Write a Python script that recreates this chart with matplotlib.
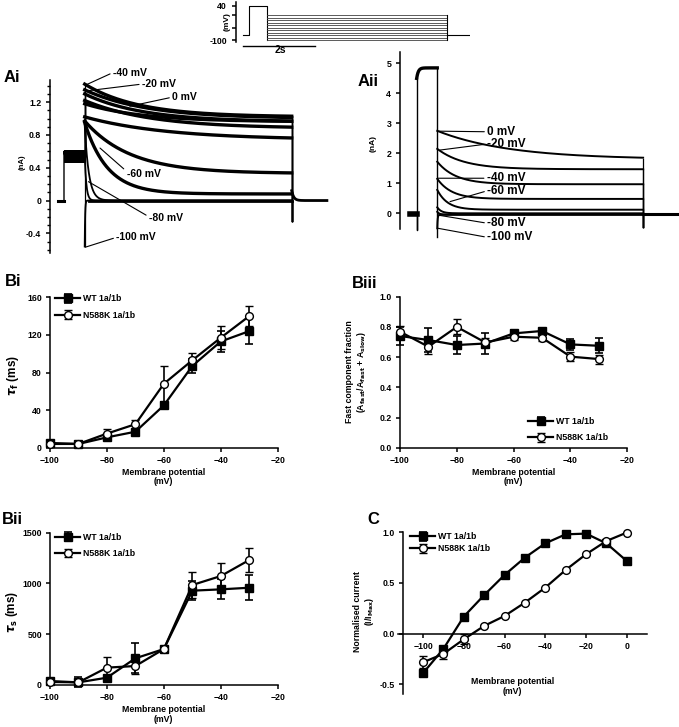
import matplotlib
matplotlib.use("Agg")
import matplotlib.pyplot as plt
import numpy as np

plt.rcParams["font.family"] = ["Liberation Sans", "DejaVu Sans"]
plt.rcParams["font.weight"] = "bold"
plt.rcParams["axes.labelweight"] = "bold"
plt.rcParams["mathtext.fontset"] = "dejavusans"
plt.rcParams["axes.linewidth"] = 1.1
plt.rcParams["xtick.major.width"] = 1.1
plt.rcParams["ytick.major.width"] = 1.1
plt.rcParams["ytick.minor.width"] = 1.0
plt.rcParams["xtick.major.size"] = 2.8
plt.rcParams["ytick.major.size"] = 2.8
plt.rcParams["ytick.minor.size"] = 2.0
plt.rcParams["xtick.labelsize"] = 6.3
plt.rcParams["ytick.labelsize"] = 6.3

# ---- voltage protocol (s, mV) ----
t_start = -0.17
t_pre_end = 0.5
t_test_end = 5.5
t_stop = 6.14
v_hold = -80
v_pre = 40
test_mv = [-100, -90, -80, -70, -60, -50, -40, -30, -20, -10, 0]

# ---- Ai: WT 1a/1b current traces (nA) ----
ai_mv = [-100, -90, -80, -70, -60, -50, -40, -30, -20, -10, 0]
ai_peak = [-0.56, 0.55, 0.92, 0.95, 0.97, 1.02, 1.42, 1.30, 1.35, 1.22, 1.18]
ai_end = [0.0, 0.0, 0.0, 0.08, 0.33, 0.74, 1.02, 0.96, 1.00, 0.88, 0.96]
ai_tau = [0.01, 0.04, 0.10, 0.55, 1.1, 2.0, 1.3, 1.4, 1.5, 1.6, 1.4]
ai_pre_lo, ai_pre_hi = 0.46, 0.62
ai_pre_level = 0.54
ai_off_spike = -0.25
ai_tail = 0.12
ai_t_last = 6.35

# ---- Aii: N588K 1a/1b current traces (nA) ----
aii_mv = [-100, -90, -80, -70, -60, -40, -20, 0]
aii_peak = [-0.50, 0.05, 0.20, 0.78, 1.15, 1.72, 2.15, 2.75]
aii_end = [-0.05, -0.04, 0.00, 0.12, 0.48, 0.97, 1.47, 1.80]
aii_tau = [0.01, 0.05, 0.10, 0.25, 0.35, 0.45, 0.65, 1.75]
aii_base = -0.03
aii_pre_level = 4.85
aii_pre_rise = 4.5
aii_on_spike = -0.55
aii_pre_off_spike = -0.8
aii_off_spike = -0.47
aii_t_last = 6.34

# ---- B / C summary data ----
mv_b = [-100, -90, -80, -70, -60, -50, -40, -30]
bi_wt = [5, 4, 11, 17, 45, 87, 113, 124]
bi_wt_err = [1, 1, 3, 2, 4, 7, 11, 14]
bi_mut = [4, 4, 15, 25, 68, 93, 117, 140]
bi_mut_err = [1, 1, 5, 5, 19, 8, 12, 11]

bii_wt = [39, 26, 72, 263, 354, 929, 942, 958]
bii_wt_err = [10, 50, 20, 147, 20, 92, 98, 123]
bii_mut = [30, 26, 171, 187, 354, 985, 1073, 1231]
bii_mut_err = [10, 20, 101, 79, 15, 131, 125, 115]

biii_wt = [0.74, 0.713, 0.68, 0.69, 0.757, 0.773, 0.684, 0.675]
biii_wt_err = [0.06, 0.08, 0.06, 0.07, 0.02, 0.015, 0.035, 0.05]
biii_mut = [0.768, 0.669, 0.80, 0.697, 0.735, 0.728, 0.603, 0.587]
biii_mut_err = [0.04, 0.05, 0.05, 0.03, 0.02, 0.02, 0.03, 0.03]

mv_c = [-100, -90, -80, -70, -60, -50, -40, -30, -20, -10, 0]
c_wt = [-0.39, -0.15, 0.168, 0.38, 0.579, 0.75, 0.891, 0.98, 0.987, 0.891, 0.717]
c_wt_err = [0.03, 0.03, 0.02, 0.01, 0, 0, 0, 0, 0, 0, 0]
c_mut = [-0.283, -0.2, -0.056, 0.076, 0.174, 0.306, 0.454, 0.628, 0.783, 0.914, 0.997]
c_mut_err = [0.06, 0.05, 0.05, 0.01, 0, 0, 0, 0, 0, 0, 0]

W, H = 679, 727
fig = plt.figure(figsize=(W / 100, H / 100), dpi=100)


def add_box(x0, y0, x1, y1):
    # pixel box (left, top, right, bottom) -> axes
    return fig.add_axes([x0 / W, 1 - y1 / H, (x1 - x0) / W, (y1 - y0) / H])


def only_left(ax):
    for s in ["top", "right", "bottom"]:
        ax.spines[s].set_visible(False)
    ax.set_xticks([])
    ax.patch.set_alpha(0)


# ---------------- voltage protocol inset ----------------
ax_p = add_box(235.7, 1.7, 470, 41.7)
only_left(ax_p)
ax_p.set_xlim(-0.37, t_stop)
ax_p.set_ylim(-106.9, 56.3)
ax_p.plot([t_start, 0, 0, t_pre_end, t_pre_end], [v_hold, v_hold, v_pre, v_pre, min(test_mv)],
          color="k", lw=0.8)
for v in test_mv:
    ax_p.plot([t_pre_end, t_test_end], [v, v], color="0.25", lw=0.6)
ax_p.plot([t_test_end, t_test_end], [min(test_mv), max(test_mv)], color="k", lw=0.8)
ax_p.plot([t_test_end, t_stop], [v_hold, v_hold], color="k", lw=0.8)
ax_p.set_yticks([40, 0, -50, -100])
ax_p.set_yticklabels(["40", "", "", "-100"])
ax_p.text(-0.035, 0.5, "(mV)", transform=ax_p.transAxes, rotation=90, ha="center",
          va="center", fontsize=6.0)
ax_p.plot([-0.17, 1.83], [-123, -123], color="k", lw=1.0, clip_on=False)
ax_p.text(0.86, -142, "2s", ha="center", va="center", fontsize=7.5, clip_on=False)

# ---------------- Ai ----------------
ax = add_box(50, 80, 330, 253)
only_left(ax)
ax.set_xlim(-0.338, 6.425)
ax.set_ylim(-0.64, 1.47)
ax.plot([-0.15, 0], [0, 0], color="k", lw=2.2)
ax.plot([0, 0, 0.02], [0, 0.6, ai_pre_level], color="k", lw=1.0)
ax.fill_between([0.01, t_pre_end], ai_pre_lo, ai_pre_hi, color="k", lw=0)
t_test = np.linspace(t_pre_end, t_test_end, 800)
for mv, pk, en, tau in zip(ai_mv, ai_peak, ai_end, ai_tau):
    cur = en + (pk - en) * np.exp(-(t_test - t_pre_end) / tau)
    ax.plot([t_pre_end, t_pre_end], [ai_pre_level, pk], color="k", lw=0.9)
    ax.plot(t_test, cur, color="k", lw=2.4 if tau > 0.3 else 1.3)
    ax.plot([t_test_end, t_test_end], [en, ai_off_spike], color="k", lw=0.9)
ax.plot([t_pre_end + 0.1, t_test_end], [0, 0], color="k", lw=2.0)
t_tail = np.linspace(t_test_end, ai_t_last, 200)
ax.plot(t_tail, ai_tail * np.exp(-(t_tail - t_test_end) / 0.05), color="k", lw=2.0)
ax.set_yticks([-0.4, 0, 0.4, 0.8, 1.2])
ax.set_yticklabels(["-0.4", "0", "0.4", "0.8", "1.2"])
ax.set_yticks(np.arange(-0.6, 1.45, 0.1), minor=True)
ax.text(-0.1, 0.526, "(nA)", transform=ax.transAxes, rotation=90, ha="center",
        va="center", fontsize=5.6)
ai_notes = [("-40 mV", (0.53, 1.41), (1.18, 1.56), (0, 0.5)),
            ("-20 mV", (0.59, 1.34), (1.88, 1.42), (0, 0.5)),
            ("0 mV", (1.59, 1.15), (2.61, 1.26), (0, 0.5)),
            ("-60 mV", (0.87, 0.64), (1.51, 0.32), (0, 0.8)),
            ("-80 mV", (0.59, 0.23), (2.05, -0.21), (0, 0.6)),
            ("-100 mV", (0.51, -0.57), (1.26, -0.45), (0, 0.5))]
for txt, xy, xyt, rp in ai_notes:
    ax.annotate(txt, xy=xy, xytext=xyt, ha="left", va="center", fontsize=7.5,
                annotation_clip=False,
                arrowprops=dict(arrowstyle="-", lw=0.8, color="k", shrinkA=0, shrinkB=0,
                                relpos=rp))

# ---------------- Aii ----------------
ax = add_box(400, 52.3, 679, 238.8)
only_left(ax)
ax.set_xlim(-0.405, 6.371)
ax.set_ylim(-0.85, 5.37)
ax.spines["left"].set_bounds(-0.52, 5.37)
ax.plot([-0.17, 0], [aii_base, aii_base], color="k", lw=4)
t_pre = np.linspace(0, t_pre_end, 200)
pre = aii_pre_level - (aii_pre_level - aii_pre_rise) * np.exp(-t_pre / 0.04)
ax.plot([0, 0, 0], [aii_base, aii_on_spike, aii_pre_rise], color="k", lw=1.0)
ax.plot(t_pre, pre, color="k", lw=2.4)
ax.plot([t_pre_end, t_pre_end], [aii_pre_level, aii_pre_off_spike], color="k", lw=1.0)
for mv, pk, en, tau in zip(aii_mv, aii_peak, aii_end, aii_tau):
    cur = en + (pk - en) * np.exp(-(t_test - t_pre_end) / tau)
    ax.plot(t_test, cur, color="k", lw=1.4)
    ax.plot([t_test_end, t_test_end], [en, aii_off_spike], color="k", lw=0.9)
ax.plot([t_test_end, aii_t_last], [aii_base, aii_base], color="k", lw=2.2)
ax.set_yticks([0, 1, 2, 3, 4, 5])
ax.text(-0.096, 0.512, "(nA)", transform=ax.transAxes, rotation=90, ha="center",
        va="center", fontsize=6.0)
aii_notes = [("0 mV", (0.52, 2.74), (1.71, 2.72), (0, 0.5)),
             ("-20 mV", (0.57, 2.11), (1.70, 2.31), (0, 0.5)),
             ("-40 mV", (0.52, 1.17), (1.70, 1.17), (0, 0.5)),
             ("-60 mV", (0.81, 0.39), (1.71, 0.75), (0, 0.5)),
             ("-80 mV", (0.52, -0.06), (1.71, -0.33), (0, 0.5)),
             ("-100 mV", (0.52, -0.50), (1.71, -0.80), (0, 0.5))]
for txt, xy, xyt, rp in aii_notes:
    ax.annotate(txt, xy=xy, xytext=xyt, ha="left", va="center", fontsize=8.5,
                annotation_clip=False,
                arrowprops=dict(arrowstyle="-", lw=0.8, color="k", shrinkA=0, shrinkB=0,
                                relpos=rp))


# ---------------- summary panels ----------------
def summary(ax, x, wt, wt_err, mut, mut_err):
    for artist in ax.errorbar(x, wt, yerr=wt_err, color="k", lw=1.6, marker="s", ms=5.2,
                              mfc="k", mec="k", capsize=3, elinewidth=1.2, capthick=1.2,
                              label="WT 1a/1b", zorder=3).get_children():
        artist.set_clip_on(False)
    for artist in ax.errorbar(x, mut, yerr=mut_err, color="k", lw=1.6, marker="o", ms=5.6,
                              mfc="white", mec="k", mew=1.0, capsize=3, elinewidth=1.2,
                              capthick=1.2, label="N588K 1a/1b", zorder=4).get_children():
        artist.set_clip_on(False)
    for s in ["top", "right"]:
        ax.spines[s].set_visible(False)
    ax.tick_params(direction="out", pad=3)
    ax.patch.set_alpha(0)


def add_legend(ax, anchor, loc, spacing):
    ax.legend(loc=loc, bbox_to_anchor=anchor, frameon=False, fontsize=6.3,
              handlelength=2.9, handletextpad=0.3, labelspacing=spacing,
              borderpad=0, borderaxespad=0)


def b_xaxis(ax):
    ax.set_xlim(-100, -20)
    ax.set_xticks([-100, -80, -60, -40, -20])
    ax.set_xlabel("Membrane potential\n(mV)", fontsize=6.3, labelpad=2, linespacing=1.1)


# Bi
ax = add_box(50, 297.3, 277.7, 447.7)
summary(ax, mv_b, bi_wt, bi_wt_err, bi_mut, bi_mut_err)
b_xaxis(ax)
ax.set_ylim(0, 160)
ax.set_yticks([0, 40, 80, 120, 160])
ax.text(-0.162, 0.483, r"$\tau_{\mathbf{f}}$ (ms)", transform=ax.transAxes, rotation=90,
        ha="center", va="center", fontsize=8.5)
add_legend(ax, (0.022, 1.02), "upper left", 0.85)

# Biii
ax = add_box(400, 296.7, 627.3, 447.7)
summary(ax, mv_b, biii_wt, biii_wt_err, biii_mut, biii_mut_err)
b_xaxis(ax)
ax.set_ylim(0, 1.0)
ax.set_yticks([0, 0.2, 0.4, 0.6, 0.8, 1.0])
ax.set_yticklabels(["0.0", "0.2", "0.4", "0.6", "0.8", "1.0"])
ax.text(-0.19, 0.503,
        "Fast component fraction\n" + r"(A$_{\rm fast}$/A$_{\rm fast}$ + A$_{\rm slow}$)",
        transform=ax.transAxes, rotation=90, ha="center", va="center", fontsize=6.3,
        linespacing=1.1)
add_legend(ax, (0.563, 0.035), "lower left", 0.85)

# Bii
ax = add_box(50, 532.7, 277.7, 685)
summary(ax, mv_b, bii_wt, bii_wt_err, bii_mut, bii_mut_err)
b_xaxis(ax)
ax.set_ylim(0, 1500)
ax.set_yticks([0, 500, 1000, 1500])
ax.text(-0.167, 0.48, r"$\tau_{\mathbf{s}}$ (ms)", transform=ax.transAxes, rotation=90,
        ha="center", va="center", fontsize=8.5)
add_legend(ax, (0.022, 1.0), "upper left", 0.85)

# C
ax = add_box(398, 532.3, 646.7, 694.4)
summary(ax, mv_c, c_wt, c_wt_err, c_mut, c_mut_err)
ax.set_xlim(-112.3, 9.8)
ax.set_ylim(-0.6, 1.0)
ax.spines["left"].set_position(("data", -110))
ax.spines["bottom"].set_position(("data", 0))
ax.set_xticks([-100, -80, -60, -40, -20, 0])
ax.set_yticks([-0.5, 0.0, 0.5, 1.0])
ax.set_yticklabels(["-0.5", "0.0", "0.5", "1.0"])
ax.text(0.461, 0.0475, "Membrane potential\n(mV)", transform=ax.transAxes, ha="center",
        va="center", fontsize=6.3, linespacing=1.1)
ax.text(-0.133, 0.51, "Normalised current\n" + r"(I/I$_{\rm Max}$)", transform=ax.transAxes,
        rotation=90, ha="center", va="center", fontsize=6.3, linespacing=1.1)
add_legend(ax, (0.048, 1.0), "upper left", 0.35)

# panel labels
for lab, x, y in [("Ai", 12, 78), ("Aii", 368, 81), ("Bi", 13, 282), ("Biii", 365, 283),
                  ("Bii", 12, 520), ("C", 373, 519)]:
    fig.text(x / W, 1 - y / H, lab, ha="center", va="center", fontsize=12, fontweight="bold")

fig.savefig("out.png", dpi=100)
